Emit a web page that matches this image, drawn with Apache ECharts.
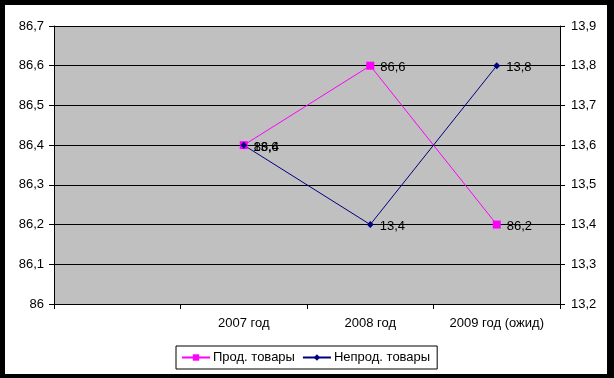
<!DOCTYPE html>
<html><head><meta charset="utf-8">
<script src="https://cdn.jsdelivr.net/npm/echarts@6/dist/echarts.min.js"></script>
<style>
html,body{margin:0;padding:0;background:#000;width:614px;height:378px;overflow:hidden}
#c{position:absolute;left:5px;top:5px;width:602px;height:369px;background:#fff}
</style></head><body><div id="c"></div>
<script>
const categories = ['', '2007 год', '2008 год', '2009 год (ожид)'];
const prodValues = [null, 86.4, 86.6, 86.2];
const nonprodValues = [null, 13.6, 13.4, 13.8];
const seriesNames = ['Прод. товары', 'Непрод. товары'];
const leftRange = [86, 86.7];
const rightRange = [13.2, 13.9];

const F = 'Liberation Sans, Arial, sans-serif';
const fmt = v => String(+(+v).toFixed(1)).replace('.', ',');
const chart = echarts.init(document.getElementById('c'), null, {renderer: 'canvas'});
chart.setOption({
  animation: false,
  textStyle: {fontFamily: F},
  grid: {left: 49, top: 21, width: 506, height: 278, backgroundColor: '#C0C0C0', show: true, borderWidth: 0},
  legend: {
    left: 171, top: 341,
    padding: [5, 7, 5, 5], itemGap: 7, itemWidth: 28, itemHeight: 8,
    borderColor: '#000', borderWidth: 1, backgroundColor: '#fff',
    textStyle: {fontFamily: F, fontSize: 13, color: '#000', padding: [0, 0, 0, -2]},
    data: seriesNames
  },
  xAxis: {
    type: 'category', data: categories, boundaryGap: true,
    axisLine: {lineStyle: {color: '#000', width: 1}},
    axisTick: {show: true, length: 5, inside: false, lineStyle: {color: '#000'}, alignWithLabel: false, interval: 0},
    axisLabel: {interval: 0, margin: 13, color: '#000', fontSize: 13, fontFamily: F},
    splitLine: {show: false}
  },
  yAxis: [{
    type: 'value', min: leftRange[0], max: leftRange[1], interval: 0.1, position: 'left',
    axisLine: {show: true, lineStyle: {color: '#000'}},
    axisTick: {show: true, length: 5, lineStyle: {color: '#000'}},
    axisLabel: {formatter: fmt, margin: 10, color: '#000', fontSize: 13, fontFamily: F},
    splitLine: {show: true, lineStyle: {color: '#000', width: 1}}
  }, {
    type: 'value', min: rightRange[0], max: rightRange[1], interval: 0.1, position: 'right',
    axisLine: {show: true, lineStyle: {color: '#000'}},
    axisTick: {show: true, length: 5, lineStyle: {color: '#000'}},
    axisLabel: {formatter: fmt, margin: 11, color: '#000', fontSize: 13, fontFamily: F},
    splitLine: {show: false}
  }],
  series: [{
    name: seriesNames[0], type: 'line', yAxisIndex: 0, data: prodValues,
    symbol: 'rect', symbolSize: 8, showAllSymbol: true,
    lineStyle: {color: '#FF00FF', width: 1}, itemStyle: {color: '#FF00FF'},
    label: {show: true, position: 'right', distance: 6, offset: [0, 2], color: '#000', fontSize: 13, fontFamily: F,
      formatter: p => fmt(p.value)}
  }, {
    name: seriesNames[1], type: 'line', yAxisIndex: 1, data: nonprodValues,
    symbol: 'diamond', symbolSize: 7, showAllSymbol: true,
    lineStyle: {color: '#000080', width: 1}, itemStyle: {color: '#000080'},
    label: {show: true, position: 'right', distance: 6, offset: [0, 2], color: '#000', fontSize: 13, fontFamily: F,
      formatter: p => fmt(p.value)}
  }]
});
</script></body></html>
